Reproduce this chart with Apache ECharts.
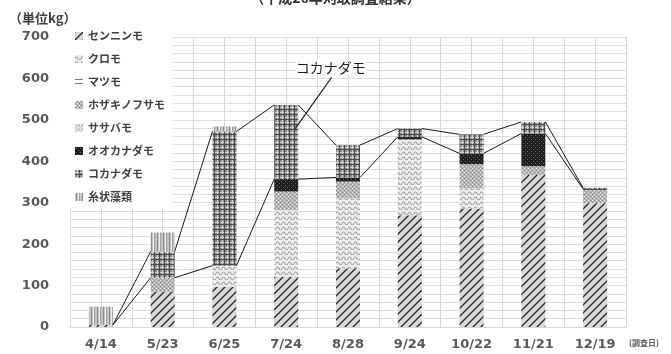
<!DOCTYPE html>
<html><head><meta charset="utf-8">
<script src="https://cdn.jsdelivr.net/npm/echarts@6/dist/echarts.min.js"></script>
<style>html,body{margin:0;padding:0;background:#fff}#c{width:671px;height:354px}</style>
</head><body><div id="c"></div><script>
// ---- data ----
const categories = ['4/14','5/23','6/25','7/24','8/28','9/24','10/22','11/21','12/19'];
const seriesNames = ['センニンモ','クロモ','マツモ','ホザキノフサモ','ササバモ','オオカナダモ','コカナダモ','糸状藻類'];
const senninmo      = [5, 85, 97, 121, 142, 270, 286, 367, 299];
const kuromo        = [0, 0, 51, 161, 169, 183, 49, 0, 0];
const matsumo       = [0, 0, 0, 0, 0, 0, 0, 0, 0];
const hozakinofusamo= [0, 34, 0, 45, 40, 0, 58, 21, 32];
const sasabamo      = [0, 0, 0, 0, 0, 0, 0, 0, 0];
const ookanadamo    = [0, 0, 0, 30, 10, 6, 26, 79, 2];
const kokanadamo    = [0, 63, 324, 179, 78, 20, 46, 28, 3];
const shijousourui  = [44, 46, 12, 0, 0, 0, 0, 0, 0];
const yTickLabels = [0,100,200,300,400,500,600,700];
const titleText = '（平成26年刈取調査結果）';
const unitText = '（単位kg）';
const dateUnitText = '(調査日)';
const annotText = 'コカナダモ';

const values = [senninmo, kuromo, matsumo, hozakinofusamo, sasabamo, ookanadamo, kokanadamo, shijousourui];

// ---- patterns ----
function pat(w, h, draw) {
  const c = document.createElement('canvas'); c.width = w; c.height = h;
  const g = c.getContext('2d'); draw(g); return { image: c, repeat: 'repeat' };
}
function px(g, col, pts) { g.fillStyle = col; pts.forEach(p => g.fillRect(p[0], p[1], 1, 1)); }
const patterns = [
  pat(8, 8, g => { g.fillStyle = '#d9d9d9'; g.fillRect(0,0,8,8); g.strokeStyle = '#262626'; g.lineWidth = 1.3;
    g.beginPath(); g.moveTo(0,8); g.lineTo(8,0); g.moveTo(-1,1); g.lineTo(1,-1); g.moveTo(7,9); g.lineTo(9,7); g.stroke(); }),
  pat(6, 5, g => { g.fillStyle = '#ececec'; g.fillRect(0,0,6,5); g.strokeStyle = '#a3a3a3'; g.lineWidth = 1.2;
    g.beginPath(); g.moveTo(0,3.5); g.quadraticCurveTo(1.5,0.5,3,3.5); g.quadraticCurveTo(4.5,6.5,6,3.5); g.stroke(); }),
  pat(4, 4, g => { g.fillStyle = '#ffffff'; g.fillRect(0,0,4,4); g.fillStyle = '#777'; g.fillRect(0,1,4,1); }),
  pat(4, 4, g => { g.fillStyle = '#b5b5b5'; g.fillRect(0,0,4,4); px(g,'#f2f2f2',[[0,0],[2,2]]); px(g,'#8a8a8a',[[2,0],[0,2]]); }),
  pat(4, 4, g => { g.fillStyle = '#d4d4d4'; g.fillRect(0,0,4,4); px(g,'#ffffff',[[1,1],[3,3]]); px(g,'#999',[[3,1]]); }),
  pat(4, 4, g => { g.fillStyle = '#1f1f1f'; g.fillRect(0,0,4,4); px(g,'#666',[[1,1],[3,3]]); }),
  pat(5, 5, g => { g.fillStyle = '#8a8a8a'; g.fillRect(0,0,5,5); g.fillStyle = '#d0d0d0'; g.fillRect(2,0,1,5); g.fillRect(0,2,5,1);
    g.fillStyle = '#4a4a4a'; g.fillRect(4,0,1,5); g.fillRect(0,4,5,1); }),
  pat(6, 2, g => { g.fillStyle = '#c4c4c4'; g.fillRect(0,0,6,2); g.fillStyle = '#8c8c8c'; g.fillRect(1,0,1,2);
    g.fillStyle = '#efefef'; g.fillRect(3,0,1,2); g.fillStyle = '#a0a0a0'; g.fillRect(4,0,1,2); })
];

// ---- layout constants ----
const W = 671, H = 354;
const gridL = 70, gridR = 45, gridT = 37, gridB = 27;
const barW = 24;
const catW = (W - gridL - gridR) / categories.length;
const hw = (barW / 2) / catW; // half bar width in category units

// cumulative boundaries for series lines (bottom & top of コカナダモ)
const idxKoka = seriesNames.indexOf('コカナダモ');
const lower = categories.map((_, i) => values.slice(0, idxKoka).reduce((s, a) => s + a[i], 0));
const upper = categories.map((_, i) => lower[i] + kokanadamo[i]);
function seg(arr) {
  const out = [];
  for (let i = 0; i < arr.length - 1; i++) out.push({ coords: [[i + hw, arr[i]], [i + 1 - hw, arr[i + 1]]] });
  return out;
}

const chart = echarts.init(document.getElementById('c'));
const labelFont = { fontFamily: 'DejaVu Sans', fontWeight: 'bold', fontSize: 13, color: '#595959' };
const barSeries = seriesNames.map((n, k) => ({
  name: n, type: 'bar', stack: 'a', barWidth: barW, xAxisIndex: 1, yAxisIndex: 0,
  itemStyle: { color: patterns[k] }, data: values[k], z: 3
}));
const yStep = yTickLabels[1] - yTickLabels[0];
const titleG = [
  { type: 'text', left: 'center', top: -9, style: { text: titleText, font: 'bold 14px "Noto Sans CJK JP"', fill: '#333' } },
  { type: 'text', left: 9, top: 12, style: { text: unitText, font: 'bold 13px "Noto Sans CJK JP"', fill: '#404040' } },
  { type: 'text', left: 629, top: 339, style: { text: dateUnitText, font: 'bold 8px "Noto Sans CJK JP"', fill: '#595959' } }
];
chart.setOption({
  animation: false,
  grid: { left: gridL, right: gridR, top: gridT, bottom: gridB },
  xAxis: [
    { type: 'value', min: -0.5, max: categories.length - 0.5, interval: 0.5,
      axisLine: { show: true, onZero: false, lineStyle: { color: '#d9d9d9' } }, axisTick: { show: false },
      splitLine: { show: true, lineStyle: { color: '#d9d9d9', width: 1 } },
      axisLabel: Object.assign({ margin: 11, showMinLabel: true, showMaxLabel: true, hideOverlap: false,
        formatter: v => (Math.abs(v - Math.round(v)) < 1e-6 && categories[Math.round(v)]) ? categories[Math.round(v)] : '' }, labelFont) },
    { type: 'category', data: categories, boundaryGap: true, show: false }
  ],
  yAxis: { type: 'value', min: yTickLabels[0], max: yTickLabels[yTickLabels.length - 1], interval: yStep / 5,
    axisLine: { show: false }, axisTick: { show: false },
    axisLabel: Object.assign({ margin: 21, formatter: v => (yTickLabels.indexOf(Math.round(v)) >= 0 && Math.abs(v % yStep) < 1e-6) ? String(Math.round(v)) : '' }, labelFont),
    splitLine: { show: true, lineStyle: { color: '#dcdcdc' } } },
  legend: {
    orient: 'vertical', left: 67, top: 25, data: seriesNames,
    backgroundColor: '#ffffff', padding: [5, 8, 5, 8], itemWidth: 8, itemHeight: 8, itemGap: 11,
    icon: 'rect', textStyle: { fontFamily: 'Noto Sans CJK JP', fontSize: 11, lineHeight: 12, color: '#404040', fontWeight: 'bold' },
    selectedMode: false, z: 5
  },
  series: barSeries.concat([
    { type: 'lines', coordinateSystem: 'cartesian2d', xAxisIndex: 0, yAxisIndex: 0, z: 4,
      lineStyle: { color: '#1a1a1a', width: 1, opacity: 1 }, data: seg(lower), silent: true },
    { type: 'lines', coordinateSystem: 'cartesian2d', xAxisIndex: 0, yAxisIndex: 0, z: 4,
      lineStyle: { color: '#1a1a1a', width: 1, opacity: 1 }, data: seg(upper), silent: true }
  ]),
  graphic: titleG
});

// annotation pointing into the コカナダモ segment of 7/24
const ci = categories.indexOf('7/24');
const tip = chart.convertToPixel({ xAxisIndex: 0, yAxisIndex: 0 }, [ci + hw * 0.75, lower[ci] + kokanadamo[ci] * 0.68]);
const lab = chart.convertToPixel({ xAxisIndex: 0, yAxisIndex: 0 }, [ci + 0.72, 627]);
chart.setOption({ graphic: titleG.concat([
  { type: 'text', x: lab[0], y: lab[1], z: 10, style: { text: annotText, font: '14px "Noto Sans CJK JP"', fill: '#1a1a1a', align: 'center', verticalAlign: 'middle', backgroundColor: '#fff' } },
  { type: 'line', z: 10, shape: { x1: lab[0] + 1, y1: lab[1] + 10, x2: tip[0], y2: tip[1] }, style: { stroke: '#1a1a1a', lineWidth: 1.2 } }
]) });
</script></body></html>
